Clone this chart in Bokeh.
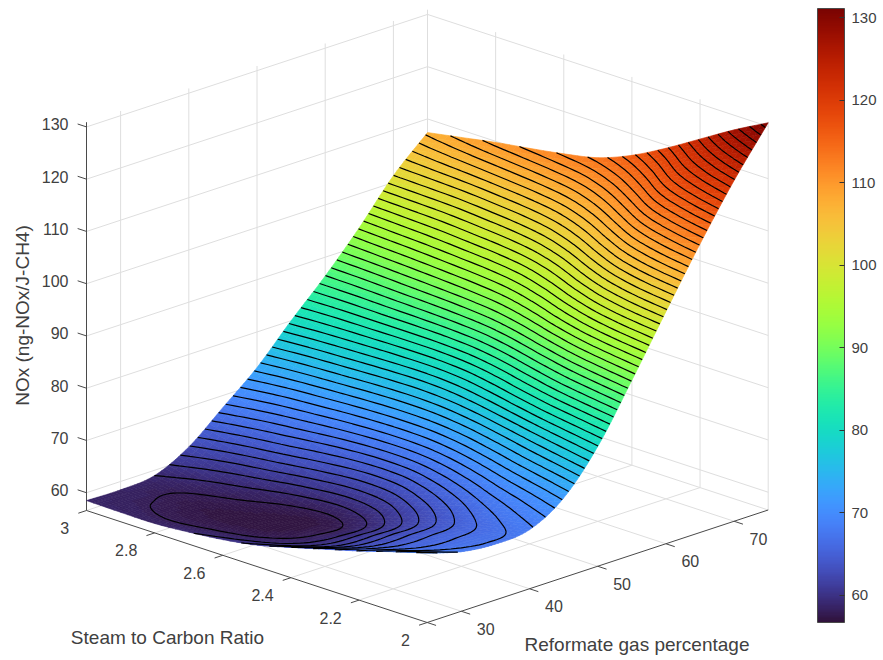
import numpy as np
from bokeh.embed import file_html
from bokeh.resources import INLINE
from bokeh.plotting import figure
from bokeh.models import ColumnDataSource, LinearColorMapper, ColorBar, FixedTicker
from bokeh.palettes import Turbo256
from bokeh.core.properties import value

# ---- data ----
sc_ticks = [3, 2.8, 2.6, 2.4, 2.2, 2]
sc_labels = ["3", "2.8", "2.6", "2.4", "2.2", "2"]
ref_ticks = [30, 40, 50, 60, 70]
ref_labels = ["30", "40", "50", "60", "70"]
z_ticks = [60, 70, 80, 90, 100, 110, 120, 130]
z_labels = ["60", "70", "80", "90", "100", "110", "120", "130"]
sc_nodes = [3.0, 2.9, 2.8, 2.7, 2.6, 2.5, 2.4, 2.3, 2.2, 2.1, 2.0]
ref_nodes = [25, 30, 35, 40, 45, 50, 55, 60, 65, 70, 75]
nox_sc30 = [58.5, 58.4, 59.0, 62.3, 67.7, 73.2, 80.0, 86.4, 93.5, 101.3, 107.4]
nox_sc29 = [58.4, 57.8, 57.9, 60.7, 66.2, 72.2, 79.4, 86.6, 94.0, 101.6, 108.6]
nox_sc28 = [58.4, 57.4, 57.3, 59.5, 65.0, 71.5, 79.0, 87.0, 94.5, 102.0, 109.8]
nox_sc27 = [58.9, 57.5, 57.0, 58.2, 63.6, 70.8, 78.6, 87.4, 95.2, 102.8, 110.8]
nox_sc26 = [59.6, 57.9, 57.1, 57.6, 62.6, 70.4, 78.5, 88.0, 96.0, 103.8, 111.9]
nox_sc25 = [60.7, 58.9, 58.2, 58.6, 62.9, 70.6, 79.3, 89.1, 97.4, 105.4, 113.3]
nox_sc24 = [62.4, 60.6, 60.3, 60.7, 64.6, 71.8, 81.2, 91.3, 100.0, 108.2, 115.9]
nox_sc23 = [64.2, 62.7, 62.6, 63.0, 66.6, 73.7, 83.7, 94.3, 103.6, 112.0, 119.4]
nox_sc22 = [66.0, 64.7, 64.6, 65.1, 68.6, 75.8, 86.2, 97.2, 107.2, 116.2, 123.3]
nox_sc21 = [68.0, 66.4, 66.1, 66.7, 70.2, 77.7, 88.2, 99.4, 109.8, 119.2, 127.2]
nox_sc20 = [69.9, 68.0, 67.3, 67.9, 71.8, 79.5, 90.0, 101.0, 111.8, 121.8, 130.7]
z_min, z_max = 56.6, 130.9
ref_min, ref_max = 25, 75

GREY = "#dedede"
DARK = "#4a4a4a"
TXT = "#404040"
FONT = value("Liberation Sans")

def proj(sc, ref, z):
    """orthographic view of the 3-D box, onto the page's pixel coordinates"""
    a = 3 - np.asarray(sc, float)
    r = np.asarray(ref, float) - ref_min
    zz = np.asarray(z, float) - z_min
    return 86 + 340.7 * a + 6.82 * r, 510 + 112 * a - 2.25 * r - 5.226 * zz

def upsample(m, k):
    """Catmull-Rom refinement of a table along its first axis, for a smooth drawing"""
    m = np.asarray(m, float)
    n = m.shape[0]
    p = np.concatenate([[2 * m[0] - m[1]], m, [2 * m[-1] - m[-2]]], axis=0)
    out = []
    for i in range(n - 1):
        for j in range(k):
            t = j / k
            out.append(0.5 * ((2 * p[i + 1]) + (-p[i] + p[i + 2]) * t
                        + (2 * p[i] - 5 * p[i + 1] + 4 * p[i + 2] - p[i + 3]) * t ** 2
                        + (-p[i] + 3 * p[i + 1] - 3 * p[i + 2] + p[i + 3]) * t ** 3))
    out.append(m[-1])
    return np.array(out)

K_SC, K_RF = 5, 10
table = np.array([nox_sc30, nox_sc29, nox_sc28, nox_sc27, nox_sc26, nox_sc25,
                  nox_sc24, nox_sc23, nox_sc22, nox_sc21, nox_sc20])
Z = upsample(upsample(table, K_SC).T, K_RF).T
SC = upsample(np.array(sc_nodes), K_SC)
RF = upsample(np.array(ref_nodes, float), K_RF)
RR, SS = np.meshgrid(RF, SC)
PX, PY = proj(SS, RR, Z)

p = figure(width=883, height=660, x_range=(0, 883), y_range=(660, 0), output_backend="svg",
           toolbar_location=None, x_axis_location=None, y_axis_location=None,
           min_border=0, outline_line_color=None)
p.xgrid.visible = False
p.ygrid.visible = False

# ---- walls and floor grid ----
gx, gy = [], []
def add(sc, ref, z):
    x, y = proj(sc, ref, z)
    gx.append(list(x)); gy.append(list(y))
for t in z_ticks:
    add([3, 3, 2], [ref_min, ref_max, ref_max], [t, t, t])
for t in ref_ticks:
    add([3, 3], [t, t], [z_min, z_max])
    add([3, 2], [t, t], [z_min, z_min])
for t in sc_ticks[1:-1]:
    add([t, t], [ref_max, ref_max], [z_min, z_max])
    add([t, t], [ref_min, ref_max], [z_min, z_min])
add([3, 3], [ref_max, ref_max], [z_min, z_max])
add([2, 2], [ref_max, ref_max], [z_min, z_max])
add([3, 3, 2], [ref_min, ref_max, ref_max], [z_min, z_min, z_min])
p.multi_line(gx, gy, line_color=GREY, line_width=1)

# ---- axes ----
ax, ay = [], []
def add_ax(sc, ref, z):
    x, y = proj(sc, ref, z)
    ax.append(list(x)); ay.append(list(y))
add_ax([3, 3], [ref_min, ref_min], [z_min, z_max])
add_ax([3, 2], [ref_min, ref_min], [z_min, z_min])
add_ax([2, 2], [ref_min, ref_max], [z_min, z_min])
for t in z_ticks:
    add_ax([3, 3.026], [ref_min, ref_min], [t, t])
for t in sc_ticks:
    add_ax([t, t], [ref_min, ref_min - 1.2], [z_min, z_min])
add_ax([2, 1.974], [ref_min, ref_min], [z_min, z_min])
for t in ref_ticks:
    add_ax([2, 1.974], [t, t], [z_min, z_min])
p.multi_line(ax, ay, line_color=DARK, line_width=1)

# ---- surface ----
mapper = LinearColorMapper(palette=Turbo256, low=z_min, high=z_max)
xs, ys, zs = [], [], []
for i in range(Z.shape[0] - 1):
    for j in range(Z.shape[1] - 2, -1, -1):
        xs.append([PX[i, j], PX[i, j + 1], PX[i + 1, j + 1], PX[i + 1, j]])
        ys.append([PY[i, j], PY[i, j + 1], PY[i + 1, j + 1], PY[i + 1, j]])
        zs.append(float((Z[i, j] + Z[i, j + 1] + Z[i + 1, j + 1] + Z[i + 1, j]) / 4))
src = ColumnDataSource(dict(xs=xs, ys=ys, z=zs))
col = {"field": "z", "transform": mapper}
p.patches("xs", "ys", source=src, fill_color=col, line_color=col, line_width=0.6)

levels = list(np.linspace(56.7, 131.1, 66)[1:-1])
p.contour(PX, PY, Z, levels=levels, line_color="black", line_width=1.2, fill_color=None)

# ---- tick and axis labels ----
tx, ty = proj([3] * len(z_ticks), [ref_min] * len(z_ticks), z_ticks)
p.text(list(tx - 18), list(ty - 2.5), text=z_labels, text_align="right", text_baseline="middle",
       text_font=FONT, text_font_size="16px", text_color=TXT)
tx, ty = proj(sc_ticks, [ref_min] * len(sc_ticks), [z_min] * len(sc_ticks))
p.text(list(tx - 17.3), list(ty + 17.5), text=sc_labels, text_align="right", text_baseline="middle",
       text_font=FONT, text_font_size="16px", text_color=TXT)
tx, ty = proj([2] * len(ref_ticks), ref_ticks, [z_min] * len(ref_ticks))
p.text(list(tx + 24.4), list(ty + 17.7), text=ref_labels, text_align="center", text_baseline="middle",
       text_font=FONT, text_font_size="16px", text_color=TXT)
p.text([167], [637], text=["Steam to Carbon Ratio"], text_align="center", text_baseline="middle",
       text_font=FONT, text_font_size="19px", text_color=TXT)
p.text([636.5], [644], text=["Reformate gas percentage"], text_align="center", text_baseline="middle",
       text_font=FONT, text_font_size="19px", text_color=TXT)
p.text([22], [315], text=["NOx (ng-NOx/J-CH4)"], angle=[np.pi / 2], text_align="center", text_baseline="middle",
       text_font=FONT, text_font_size="19px", text_color=TXT)

# ---- colour bar ----
cb = ColorBar(color_mapper=LinearColorMapper(palette=Turbo256, low=56.7, high=131.1),
              location=(817, 38), width=27, height=614, padding=0,
              ticker=FixedTicker(ticks=z_ticks), major_tick_in=5, minor_tick_line_color=None,
              major_tick_line_color="#333333", bar_line_color=DARK, bar_line_width=1,
              major_label_text_font="Liberation Sans", major_label_text_font_size="15px",
              major_label_text_color=TXT, label_standoff=7,
              background_fill_alpha=0, border_line_color=None)
p.add_layout(cb)

open("out.html", "w").write(file_html(p, INLINE))
